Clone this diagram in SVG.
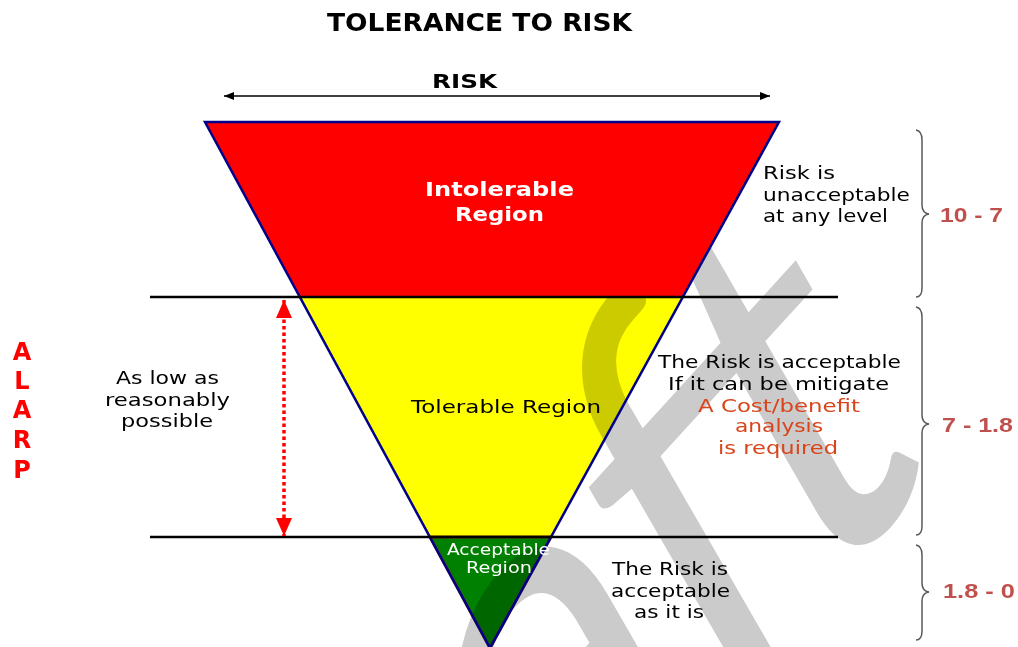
<svg xmlns="http://www.w3.org/2000/svg" width="1018" height="647" viewBox="0 0 1018 647">
<style>
.t{font-family:"DejaVu Sans",Verdana,sans-serif;font-size:17px;fill:#000}
.b{font-weight:bold}
.w{fill:#fff}
.o{fill:#d9441b}
.r{fill:#ff0000}
.n{font-family:"Liberation Sans",Arial,sans-serif;font-weight:bold;font-size:21px;fill:#c0504d}
.brace{fill:none;stroke:#595959;stroke-width:1.5}
.hl{stroke:#000;stroke-width:2.5}
.wm{font-family:Lato,"Open Sans",sans-serif;font-size:500px;fill:#cbcbcb;mix-blend-mode:multiply}
</style>
<defs>
<marker id="ah" viewBox="0 0 10 8" refX="10" refY="4" markerWidth="10" markerHeight="8" markerUnits="userSpaceOnUse" orient="auto-start-reverse"><path d="M0,0 L10,4 L0,8 z" fill="#000"/></marker>
<marker id="rh" viewBox="0 0 18 16" refX="18" refY="8" markerWidth="18" markerHeight="16" markerUnits="userSpaceOnUse" orient="auto-start-reverse"><path d="M0,0 L18,8 L0,16 z" fill="#ff0000"/></marker>
</defs>
<rect width="1018" height="647" fill="#fff"/>
<g id="title"><text class="t b" x="327" y="31" textLength="305" lengthAdjust="spacingAndGlyphs" style="font-size:24px">TOLERANCE TO RISK</text></g>
<g id="risk-axis"><text class="t b" x="432" y="88" textLength="65" lengthAdjust="spacingAndGlyphs" style="font-size:20px">RISK</text></g>
<g id="tolerable-region"><polygon points="300,297 683,297 551,537 430,537" fill="#ffff00"/></g>
<g id="acceptable-region"><polygon points="430,537 551,537 490,648" fill="#008000" stroke="#7a3d0a" stroke-width="3"/></g>
<text class="wm" transform="matrix(0.648,-0.711,0.52,0.9,932,476)" text-anchor="end">Draft</text>
<g id="intolerable-region"><polygon points="205,122 779,122 683,297 300,297" fill="#ff0000"/>
<text class="t b w" x="425" y="196" textLength="149" lengthAdjust="spacingAndGlyphs" style="font-size:20px">Intolerable</text>
<text class="t b w" x="455" y="221" textLength="89" lengthAdjust="spacingAndGlyphs" style="font-size:20px">Region</text></g>
<polygon points="205,122 779,122 490,648" fill="none" stroke="#00008b" stroke-width="2.5" stroke-linejoin="miter"/>
<text class="t" x="411" y="413" textLength="190" lengthAdjust="spacingAndGlyphs">Tolerable Region</text>
<text class="t w" x="447" y="555" textLength="103" lengthAdjust="spacingAndGlyphs" style="font-size:15px">Acceptable</text>
<text class="t w" x="466" y="573" textLength="66" lengthAdjust="spacingAndGlyphs" style="font-size:15px">Region</text>
<g id="connectors">
<line class="hl" x1="150" y1="297" x2="838" y2="297"/>
<line class="hl" x1="150" y1="537" x2="838" y2="537"/>
<line x1="224" y1="96" x2="770" y2="96" stroke="#000" stroke-width="1.5" marker-start="url(#ah)" marker-end="url(#ah)"/>
<line x1="284" y1="300" x2="284" y2="536" stroke="#ff0000" stroke-width="3.5" stroke-dasharray="3.5 3" marker-start="url(#rh)" marker-end="url(#rh)"/>
</g>
<g id="alarp">
<text class="t b r" x="22" y="360" text-anchor="middle" style="font-size:24px">A</text>
<text class="t b r" x="22" y="389" text-anchor="middle" style="font-size:24px">L</text>
<text class="t b r" x="22" y="418" text-anchor="middle" style="font-size:24px">A</text>
<text class="t b r" x="22" y="448" text-anchor="middle" style="font-size:24px">R</text>
<text class="t b r" x="22" y="478" text-anchor="middle" style="font-size:24px">P</text>
</g>
<g id="alarp-label">
<text class="t" x="116" y="384" textLength="103" lengthAdjust="spacingAndGlyphs">As low as</text>
<text class="t" x="105" y="406" textLength="125" lengthAdjust="spacingAndGlyphs">reasonably</text>
<text class="t" x="121" y="427" textLength="92" lengthAdjust="spacingAndGlyphs">possible</text>
</g>
<g id="note-intolerable">
<text class="t" x="763" y="179" textLength="72" lengthAdjust="spacingAndGlyphs">Risk is</text>
<text class="t" x="763" y="201" textLength="147" lengthAdjust="spacingAndGlyphs">unacceptable</text>
<text class="t" x="763" y="222" textLength="125" lengthAdjust="spacingAndGlyphs">at any level</text>
</g>
<g id="note-tolerable">
<text class="t" x="658" y="368" textLength="243" lengthAdjust="spacingAndGlyphs">The Risk is acceptable</text>
<text class="t" x="668" y="390" textLength="221" lengthAdjust="spacingAndGlyphs">If it can be mitigate</text>
<text class="t o" x="698" y="412" textLength="162" lengthAdjust="spacingAndGlyphs">A Cost/benefit</text>
<text class="t o" x="735" y="432" textLength="88" lengthAdjust="spacingAndGlyphs">analysis</text>
<text class="t o" x="718" y="454" textLength="120" lengthAdjust="spacingAndGlyphs">is required</text>
</g>
<g id="note-acceptable">
<text class="t" x="612" y="575" textLength="116" lengthAdjust="spacingAndGlyphs">The Risk is</text>
<text class="t" x="611" y="597" textLength="119" lengthAdjust="spacingAndGlyphs">acceptable</text>
<text class="t" x="634" y="618" textLength="70" lengthAdjust="spacingAndGlyphs">as it is</text>
</g>
<g id="brace-1"><path class="brace" d="M916,130 Q922,131 922,140 V205 Q922,213 929,214 Q922,215 922,223 V288 Q922,297 916,297"/><text class="n" x="940" y="222" textLength="63" lengthAdjust="spacingAndGlyphs">10 - 7</text></g>
<g id="brace-2"><path class="brace" d="M916,307 Q922,308 922,317 V415 Q922,423 929,424 Q922,425 922,433 V526 Q922,535 916,535"/><text class="n" x="942" y="432" textLength="71" lengthAdjust="spacingAndGlyphs">7 - 1.8</text></g>
<g id="brace-3"><path class="brace" d="M916,545 Q922,546 922,555 V583 Q922,591 929,592 Q922,593 922,601 V631 Q922,640 916,640"/><text class="n" x="943" y="598" textLength="72" lengthAdjust="spacingAndGlyphs">1.8 - 0</text></g>
</svg>
